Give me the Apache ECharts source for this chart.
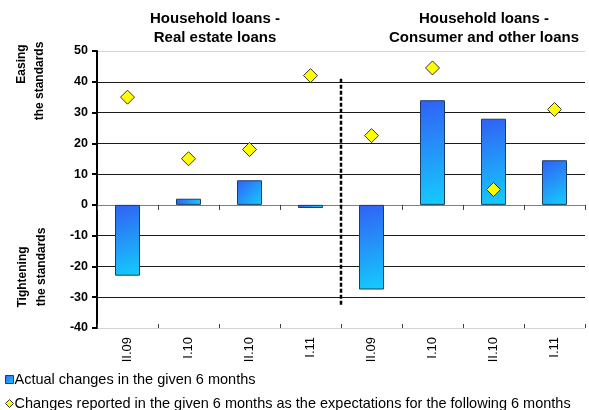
<!DOCTYPE html>
<html>
<head>
<meta charset="utf-8">
<script src="https://cdn.jsdelivr.net/npm/echarts@6/dist/echarts.min.js"></script>
<style>
  html, body { margin: 0; padding: 0; background: #fff; }
  #chart { width: 589px; height: 410px; }
</style>
</head>
<body>
<div id="chart"></div>
<script>
// Half-year periods, two groups of four (real estate, then consumer)
const categories = ['II.09', 'I.10', 'II.10', 'I.11', 'II.09', 'I.10', 'II.10', 'I.11'];
// Net percentage of banks: actual change over the half-year
const actualChanges = [-23, 2, 8, -1, -27.5, 34, 28, 14.5];
// Net percentage of banks: expected change for the next half-year
const expectedChanges = [35, 15, 18, 42, 22.5, 44.5, 5, 31];
// Y-axis scale
const yTicks = { min: -40, max: 50, step: 10 };
// Group separator: boundary between the two groups, and its vertical span
const separator = [[4, 41], [4, -33]];
const groupTitles = ['Household loans -\nReal estate loans', 'Household loans -\nConsumer and other loans'];
const seriesNames = ['Actual changes in the given 6 months',
  'Changes reported in the given 6 months as the expectations for the following 6 months'];

const FONT = 'Liberation Sans, Arial, sans-serif';
const chart = echarts.init(document.getElementById('chart'), null, { renderer: 'canvas' });

const barFill = new echarts.graphic.LinearGradient(0, 0, 1, 1, [
  { offset: 0, color: '#3160f5' },
  { offset: 1, color: '#14cdfd' }
]);

// Grid line colours: faint at the outer edges, dark inside
const splitColors = [];
for (let v = yTicks.min; v <= yTicks.max; v += yTicks.step) {
  splitColors.push(v === yTicks.min || v === yTicks.max ? '#d4d4d4' : '#1a1a1a');
}

const grid = { left: 97, right: 4, top: 51, bottom: 82 };

function sideText(text, x, y) {
  return {
    type: 'text', x: x, y: y, rotation: Math.PI / 2,
    style: { text: text, font: 'bold 12px ' + FONT, fill: '#000', align: 'center', verticalAlign: 'middle' }
  };
}

function legendRow(name, icon, style, top) {
  return {
    orient: 'horizontal', left: 0, top: top, itemWidth: 8, itemHeight: 8, selectedMode: false,
    textStyle: { fontSize: 14.5, color: '#000', fontFamily: FONT, padding: [0, 0, 0, -4] },
    data: [{ name: name, icon: icon, itemStyle: style }]
  };
}

chart.setOption({
  animation: false,
  backgroundColor: '#fff',
  textStyle: { fontFamily: FONT },
  grid: grid,
  legend: [
    legendRow(seriesNames[0], 'rect', { color: barFill, borderColor: '#1c3d63', borderWidth: 1 }, 367),
    legendRow(seriesNames[1], 'diamond', { color: '#ffff00', borderColor: '#333', borderWidth: 1 }, 391)
  ],
  xAxis: [
    { // zero line with ticks hanging below
      type: 'category', data: categories, position: 'bottom',
      axisLine: { onZero: true, lineStyle: { color: '#808080', width: 1 } },
      axisTick: { show: true, inside: false, length: 5, lineStyle: { color: '#404040' } },
      axisLabel: { show: false }, splitLine: { show: false }
    },
    { // ticks rising above the zero line
      type: 'category', data: categories, position: 'bottom',
      axisLine: { show: false, onZero: true },
      axisTick: { show: true, inside: true, length: 4, lineStyle: { color: '#404040' } },
      axisLabel: { show: false }, splitLine: { show: false }
    },
    { // period labels along the bottom edge
      type: 'category', data: categories, position: 'bottom',
      axisLine: { show: false, onZero: false },
      axisTick: { show: false },
      axisLabel: { rotate: 90, margin: 9, fontSize: 13, color: '#000', fontFamily: FONT },
      splitLine: { show: false }
    },
    { // continuous scale for the group separator
      type: 'value', min: 0, max: categories.length, position: 'top', show: false
    }
  ],
  yAxis: {
    type: 'value', min: yTicks.min, max: yTicks.max, interval: yTicks.step,
    axisLine: { show: true, lineStyle: { color: '#000', width: 2 } },
    axisTick: { show: true, length: 5, lineStyle: { color: '#000', width: 2 } },
    axisLabel: { fontSize: 12.5, fontWeight: 'bold', color: '#000', margin: 9, fontFamily: FONT },
    splitLine: { show: true, lineStyle: { color: splitColors, width: 1 } }
  },
  series: [
    {
      name: seriesNames[0], type: 'bar', xAxisIndex: 0, data: actualChanges,
      barWidth: 25,
      itemStyle: { color: barFill, borderColor: '#1c3d63', borderWidth: 1 },
      z: 3
    },
    {
      name: seriesNames[1], type: 'scatter', xAxisIndex: 0, data: expectedChanges,
      symbol: 'diamond', symbolSize: 14,
      itemStyle: { color: '#ffff00', borderColor: '#333', borderWidth: 1, opacity: 1 },
      z: 5
    },
    {
      name: 'separator', type: 'line', xAxisIndex: 3, data: separator,
      showSymbol: false, symbol: 'none', silent: true,
      lineStyle: { color: '#000', width: 2.5, type: [4, 2] },
      z: 4
    }
  ],
  graphic: [
    {
      type: 'text', x: 215, y: 9,
      style: { text: groupTitles[0], font: 'bold 15px ' + FONT, fill: '#000', align: 'center', lineHeight: 19 }
    },
    {
      type: 'text', x: 484, y: 9,
      style: { text: groupTitles[1], font: 'bold 15px ' + FONT, fill: '#000', align: 'center', lineHeight: 19 }
    },
    sideText('Easing', 22, 64),
    sideText('the standards', 40, 81),
    sideText('Tightening', 23, 277),
    sideText('the standards', 42, 267)
  ]
});
</script>
</body>
</html>
